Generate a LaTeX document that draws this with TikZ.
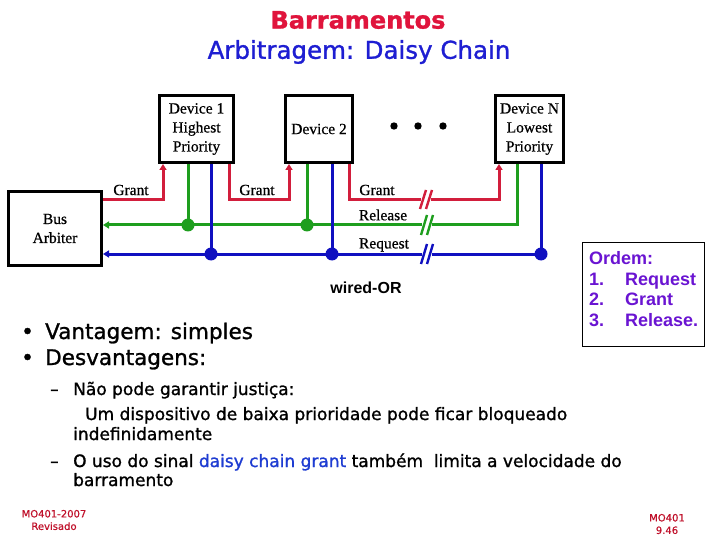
\documentclass[tikz,border=0pt]{standalone}
\usepackage{fontspec}
\setmainfont{Liberation Serif}[FakeBold=0.6]
\newfontfamily\comicf{DejaVu Sans}[FakeBold=1.2]
\newfontfamily\comicplain{DejaVu Sans}[FakeBold=0.6]
\newfontfamily\arialf{Liberation Sans}
\usetikzlibrary{arrows.meta}
\definecolor{tred}{HTML}{E0143C}
\definecolor{tblue}{HTML}{1E1ED2}
\definecolor{lred}{HTML}{D21E3C}
\definecolor{lgreen}{HTML}{1E9E1E}
\definecolor{lblue}{HTML}{1010C0}
\definecolor{ordc}{HTML}{6A14D2}
\definecolor{foot}{HTML}{C0102A}
\definecolor{dcblue}{HTML}{1E3CD2}
\begin{document}
\begin{tikzpicture}[x=1pt,y=-1pt,
  box/.style={draw, line width=3pt, inner sep=0pt, align=center, font=\fontsize{15.5}{19}\selectfont},
  lbl/.style={inner sep=0pt, font=\fontsize{15.5}{19}\selectfont},
  wire/.style={line width=3pt},
  rl/.style={wire, draw=lred},
  gl/.style={wire, draw=lgreen},
  bl/.style={wire, draw=lblue},
  tip/.style={-{Triangle[length=6pt,width=7pt]}},
  slash/.style={line width=2.4pt},
  txt/.style={anchor=base west, inner sep=0pt, font=\comicf\fontsize{17}{20}\selectfont},
  big/.style={anchor=base west, inner sep=0pt, font=\comicf\fontsize{21.5}{24}\selectfont},
  foottxt/.style={inner sep=0pt, text=foot, align=center, font=\comicplain\fontsize{10}{12.5}\selectfont}]
\useasboundingbox (0,0) rectangle (720,540);
\fill[white] (0,0) rectangle (720,540);

% titles
\node[inner sep=0pt, text=tred, font=\comicf\bfseries\fontsize{24}{28}\selectfont] (t1) at (358,20) {Barramentos};
\node[inner sep=0pt, text=tblue, font=\comicf\fontsize{24.5}{28}\selectfont] (t2) at (359,52) {Arbitragem: Daisy Chain};

% boxes
\node[box, minimum width=74pt, minimum height=67pt] (d1) at (196.5,129) {Device 1\\Highest\\Priority};
\node[box, minimum width=67pt, minimum height=67pt] (d2) at (319,129) {Device 2};
\node[box, minimum width=68pt, minimum height=67pt] (dn) at (529.5,129) {Device N\\Lowest\\Priority};
\node[box, minimum width=93pt, minimum height=74pt] (ab) at (55,228.5) {Bus\\Arbiter};

% ellipsis
\fill (394,126) circle (3.7);
\fill (418,126) circle (3.7);
\fill (443,126) circle (3.7);

% grant chain (red)
\draw[rl, tip] (ab.east |- 0,200) -| (163,0 |- d1.south);
\draw[rl, tip] (229,0 |- d1.south) |- (260,200) -| (289,0 |- d2.south);
\draw[rl, tip] (349,0 |- d2.south) |- (420,200) -| (499,0 |- dn.south);

% release (green)
\draw[gl, tip] (517,0 |- dn.south) |- (ab.east |- 0,225);
\draw[gl] (188,0 |- d1.south) -- (188,225);
\draw[gl] (307,0 |- d2.south) -- (307,225);
\fill[lgreen] (188,225) circle (6.5);
\fill[lgreen] (307,225) circle (6.5);

% request (blue)
\draw[bl, tip] (541,0 |- dn.south) |- (ab.east |- 0,254);
\draw[bl] (211,0 |- d1.south) -- (211,254);
\draw[bl] (332,0 |- d2.south) -- (332,254);
\fill[lblue] (211,254) circle (6.5);
\fill[lblue] (332,254) circle (6.5);
\fill[lblue] (541,254) circle (6.5);

% break marks
\fill[white] (421,196) rectangle (431,204);
\draw[slash, lred] (420,209) -- (426,190);
\draw[slash, lred] (426,209) -- (432,190);
\fill[white] (422,221) rectangle (432,229);
\draw[slash, lgreen] (421,235) -- (427,215);
\draw[slash, lgreen] (427,235) -- (433,215);
\fill[white] (422,250) rectangle (432,258);
\draw[slash, lblue] (421,264) -- (427,244);
\draw[slash, lblue] (427,264) -- (433,244);

% labels
\node[lbl] (lg1) at (131,190) {Grant};
\node[lbl] (lg2) at (257,190) {Grant};
\node[lbl] (lg3) at (377,190) {Grant};
\node[lbl] (lrel) at (383,215) {Release};
\node[lbl] (lreq) at (384,245) {Request};
\node[inner sep=0pt, font=\arialf\bfseries\fontsize{16}{18}\selectfont] (wor) at (366,288) {wired-OR};

% ordem box
\node[draw, line width=1.3pt, minimum width=122pt, minimum height=104pt, inner sep=0pt] (ob) at (643.5,294.5) {};
\node[anchor=north west, inner sep=0pt, text=ordc, font=\arialf\bfseries\fontsize{18}{21}\selectfont, align=left] (ot) at (589,250)
  {\begin{tabular}{@{}l@{\hspace{21pt}}l@{}}\multicolumn{2}{@{}l}{Ordem:}\\[-0.6pt] 1. & Request\\[-0.6pt] 2. & Grant\\[-0.6pt] 3. & Release.\end{tabular}};

% bullets
\node[big] (b1) at (21,339) {•};
\node[big] (b1t) at (45,339) {Vantagem: simples};
\node[big] (b2) at (21,365) {•};
\node[big] (b2t) at (45,365) {Desvantagens:};
\node[txt] (s1d) at (50,395) {–};
\node[txt] (s1) at (73,395) {Não pode garantir justiça:};
\node[txt] (s1b) at (85,420) {Um dispositivo de baixa prioridade pode ficar bloqueado};
\node[txt] (s1c) at (73,440) {indefinidamente};
\node[txt] (s2d) at (50,467) {–};
\node[txt] (s2) at (73,467) {O uso do sinal \textcolor{dcblue}{daisy chain grant} também\ \ limita a velocidade do};
\node[txt] (s2b) at (73,486) {barramento};

% footers
\node[foottxt] (f1) at (54,520) {MO401-2007\\Revisado};
\node[foottxt] (f2) at (667,524) {MO401\\9.46};
\end{tikzpicture}
\end{document}
